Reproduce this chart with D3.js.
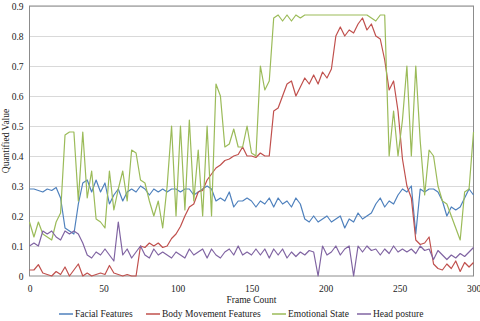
<!DOCTYPE html>
<html>
<meta charset="utf-8">
<head>
  <title>Quantified values per frame</title>
</head>

<style>
body { margin: 0; background: white; }
svg text {
  font-family: "Liberation Serif", "DejaVu Serif", serif;
  fill: #222;
  font-size: 9.5px;
}
.grid line { stroke: #d9d9d9; }
</style>

<body>
  <svg width="480" height="321"></svg>

  <script src="https://cdnjs.cloudflare.com/ajax/libs/d3/7.8.5/d3.min.js"></script>
  <script>

// frame numbers sampled every 3 frames (0..300)
var frames = d3.range(0, 301, 3);

var facial = [0.29,0.29,0.285,0.28,0.29,0.285,0.295,0.26,0.16,0.15,0.14,0.24,0.31,0.32,0.28,0.32,0.28,0.31,0.24,0.27,
  0.29,0.25,0.28,0.29,0.28,0.30,0.29,0.27,0.29,0.28,0.29,0.28,0.29,0.29,0.28,0.29,0.29,0.27,0.28,0.29,
  0.30,0.29,0.25,0.26,0.25,0.28,0.23,0.25,0.25,0.26,0.25,0.23,0.25,0.24,0.26,0.23,0.26,0.24,0.25,0.23,
  0.26,0.24,0.19,0.18,0.20,0.18,0.19,0.20,0.18,0.19,0.20,0.16,0.19,0.18,0.21,0.19,0.20,0.21,0.24,0.26,
  0.23,0.25,0.24,0.27,0.29,0.28,0.30,0.14,0.29,0.28,0.29,0.29,0.28,0.25,0.20,0.23,0.22,0.23,0.26,0.29,0.27];

var body = [0.02,0.02,0.038,0.01,0.005,0,0.015,0.005,0.03,0,0.02,0.04,0,0.01,0,0.005,0.01,0.005,0.035,0.01,
  0.005,0,0.005,0,0,0.10,0.095,0.11,0.10,0.11,0.095,0.10,0.125,0.14,0.165,0.20,0.23,0.24,0.28,0.285,
  0.32,0.34,0.36,0.37,0.385,0.39,0.40,0.405,0.43,0.40,0.40,0.395,0.41,0.40,0.40,0.55,0.56,0.60,0.64,0.65,
  0.60,0.63,0.66,0.64,0.67,0.64,0.68,0.66,0.69,0.80,0.83,0.80,0.82,0.81,0.84,0.86,0.82,0.84,0.80,0.79,
  0.72,0.62,0.65,0.55,0.39,0.30,0.26,0.12,0.105,0.11,0.13,0.04,0.025,0.02,0.04,0.025,0.05,0.015,0.045,0.03,0.045];

var emotional = [0.18,0.13,0.18,0.14,0.13,0.12,0.18,0.21,0.47,0.48,0.48,0.25,0.48,0.26,0.35,0.19,0.18,0.16,0.35,0.22,
  0.29,0.35,0.25,0.42,0.41,0.32,0.31,0.25,0.20,0.25,0.16,0.30,0.50,0.20,0.50,0.22,0.52,0.25,0.42,0.20,
  0.50,0.20,0.64,0.60,0.43,0.44,0.49,0.43,0.43,0.50,0.41,0.40,0.70,0.62,0.65,0.86,0.87,0.85,0.87,0.85,
  0.87,0.86,0.87,0.87,0.87,0.87,0.87,0.87,0.87,0.87,0.87,0.87,0.87,0.87,0.87,0.87,0.87,0.86,0.85,0.87,
  0.87,0.40,0.55,0.40,0.52,0.70,0.40,0.70,0.45,0.27,0.42,0.40,0.30,0.25,0.24,0.20,0.16,0.12,0.28,0.29,0.48];

var head = [0.10,0.11,0.10,0.15,0.14,0.15,0.13,0.12,0.15,0.14,0.15,0.14,0.11,0.07,0.06,0.08,0.07,0.09,0.07,0.05,
  0.18,0.07,0.09,0.06,0.08,0.10,0.07,0.06,0.09,0.07,0.08,0.07,0.06,0.08,0.07,0.06,0.09,0.07,0.08,0.09,
  0.06,0.09,0.07,0.06,0.08,0.09,0.07,0.10,0.07,0.08,0.07,0.09,0.07,0.09,0.06,0.09,0.07,0.09,0.06,0.08,
  0.065,0.08,0.07,0.085,0.08,0.0,0.10,0.07,0.08,0.10,0.07,0.09,0.10,0.0,0.10,0.08,0.10,0.085,0.09,0.07,
  0.09,0.075,0.10,0.08,0.09,0.08,0.09,0.075,0.10,0.085,0.09,0.055,0.085,0.07,0.055,0.07,0.06,0.075,0.065,0.08,0.095];

var seriesNames = ["Facial Features", "Body Movement Features", "Emotional State", "Head posture"];
var seriesColors = ["#4f81bd", "#c0504d", "#9bbb59", "#8064a2"];
var seriesValues = [facial, body, emotional, head];

var xTicks = [0, 50, 100, 150, 200, 250, 300];
var yTicks = [0, 0.1, 0.2, 0.3, 0.4, 0.5, 0.6, 0.7, 0.8, 0.9];

var serif = '"Liberation Serif", "DejaVu Serif", serif';

var svg = d3.select('svg');

var x = d3.scaleLinear().domain([0, 300]).range([29.5, 473.5]);
var y = d3.scaleLinear().domain([0, 0.9]).range([276, 6]);

// gridlines
svg.append('g')
  .attr('class', 'grid')
  .selectAll('line')
  .data(yTicks.slice(1))
  .enter()
  .append('line')
  .attr('x1', x(0)).attr('x2', x(300))
  .attr('y1', function(d) { return Math.round(y(d)) + 0.5; })
  .attr('y2', function(d) { return Math.round(y(d)) + 0.5; });

// plot border
svg.append('rect')
  .attr('x', x(0)).attr('y', y(0.9))
  .attr('width', x(300) - x(0)).attr('height', y(0) - y(0.9))
  .attr('fill', 'none')
  .attr('stroke', '#8c8c8c')
  .attr('stroke-width', 1);

var line = d3.line()
  .x(function(d, i) { return x(frames[i]); })
  .y(function(d) { return y(d); });

svg.append('g')
  .selectAll('path')
  .data(seriesValues)
  .enter()
  .append('path')
  .attr('d', line)
  .attr('fill', 'none')
  .attr('stroke', function(d, i) { return seriesColors[i]; })
  .attr('stroke-width', 1.2)
  .attr('stroke-linejoin', 'round');

// axes (labels only, frame drawn by the border rect)
var yAxis = svg.append('g')
  .attr('transform', 'translate(' + x(0) + ',0)')
  .call(d3.axisLeft(y).tickValues(yTicks).tickSize(0).tickPadding(6)
    .tickFormat(function(d) { return d === 0 ? '0' : d3.format('.1f')(d); }));
yAxis.select('.domain').remove();

var xAxis = svg.append('g')
  .attr('transform', 'translate(0,' + y(0) + ')')
  .call(d3.axisBottom(x).tickValues(xTicks).tickSize(0).tickPadding(9));
xAxis.select('.domain').remove();

svg.append('text')
  .attr('x', (x(0) + x(300)) / 2)
  .attr('y', 302.5)
  .attr('text-anchor', 'middle')
  .text('Frame Count');

svg.append('text')
  .attr('transform', 'translate(9,' + (y(0) + y(0.9)) / 2 + ') rotate(-90)')
  .attr('text-anchor', 'middle')
  .text('Quantified Value');

// legend
var legendX = [59, 146, 272, 357];
var legend = svg.append('g')
  .selectAll('g')
  .data(seriesNames)
  .enter()
  .append('g')
  .attr('transform', function(d, i) { return 'translate(' + legendX[i] + ',314)'; });

legend.append('line')
  .attr('x1', 0).attr('x2', 14)
  .attr('stroke', function(d, i) { return seriesColors[i]; })
  .attr('stroke-width', 1.5);

legend.append('text')
  .attr('x', 16)
  .attr('dy', 3.3)
  .text(function(d) { return d; });

svg.selectAll('text')
  .style('font-family', serif)
  .style('font-size', '9.5px')
  .attr('fill', '#222');

  </script>
</body>
</html>
